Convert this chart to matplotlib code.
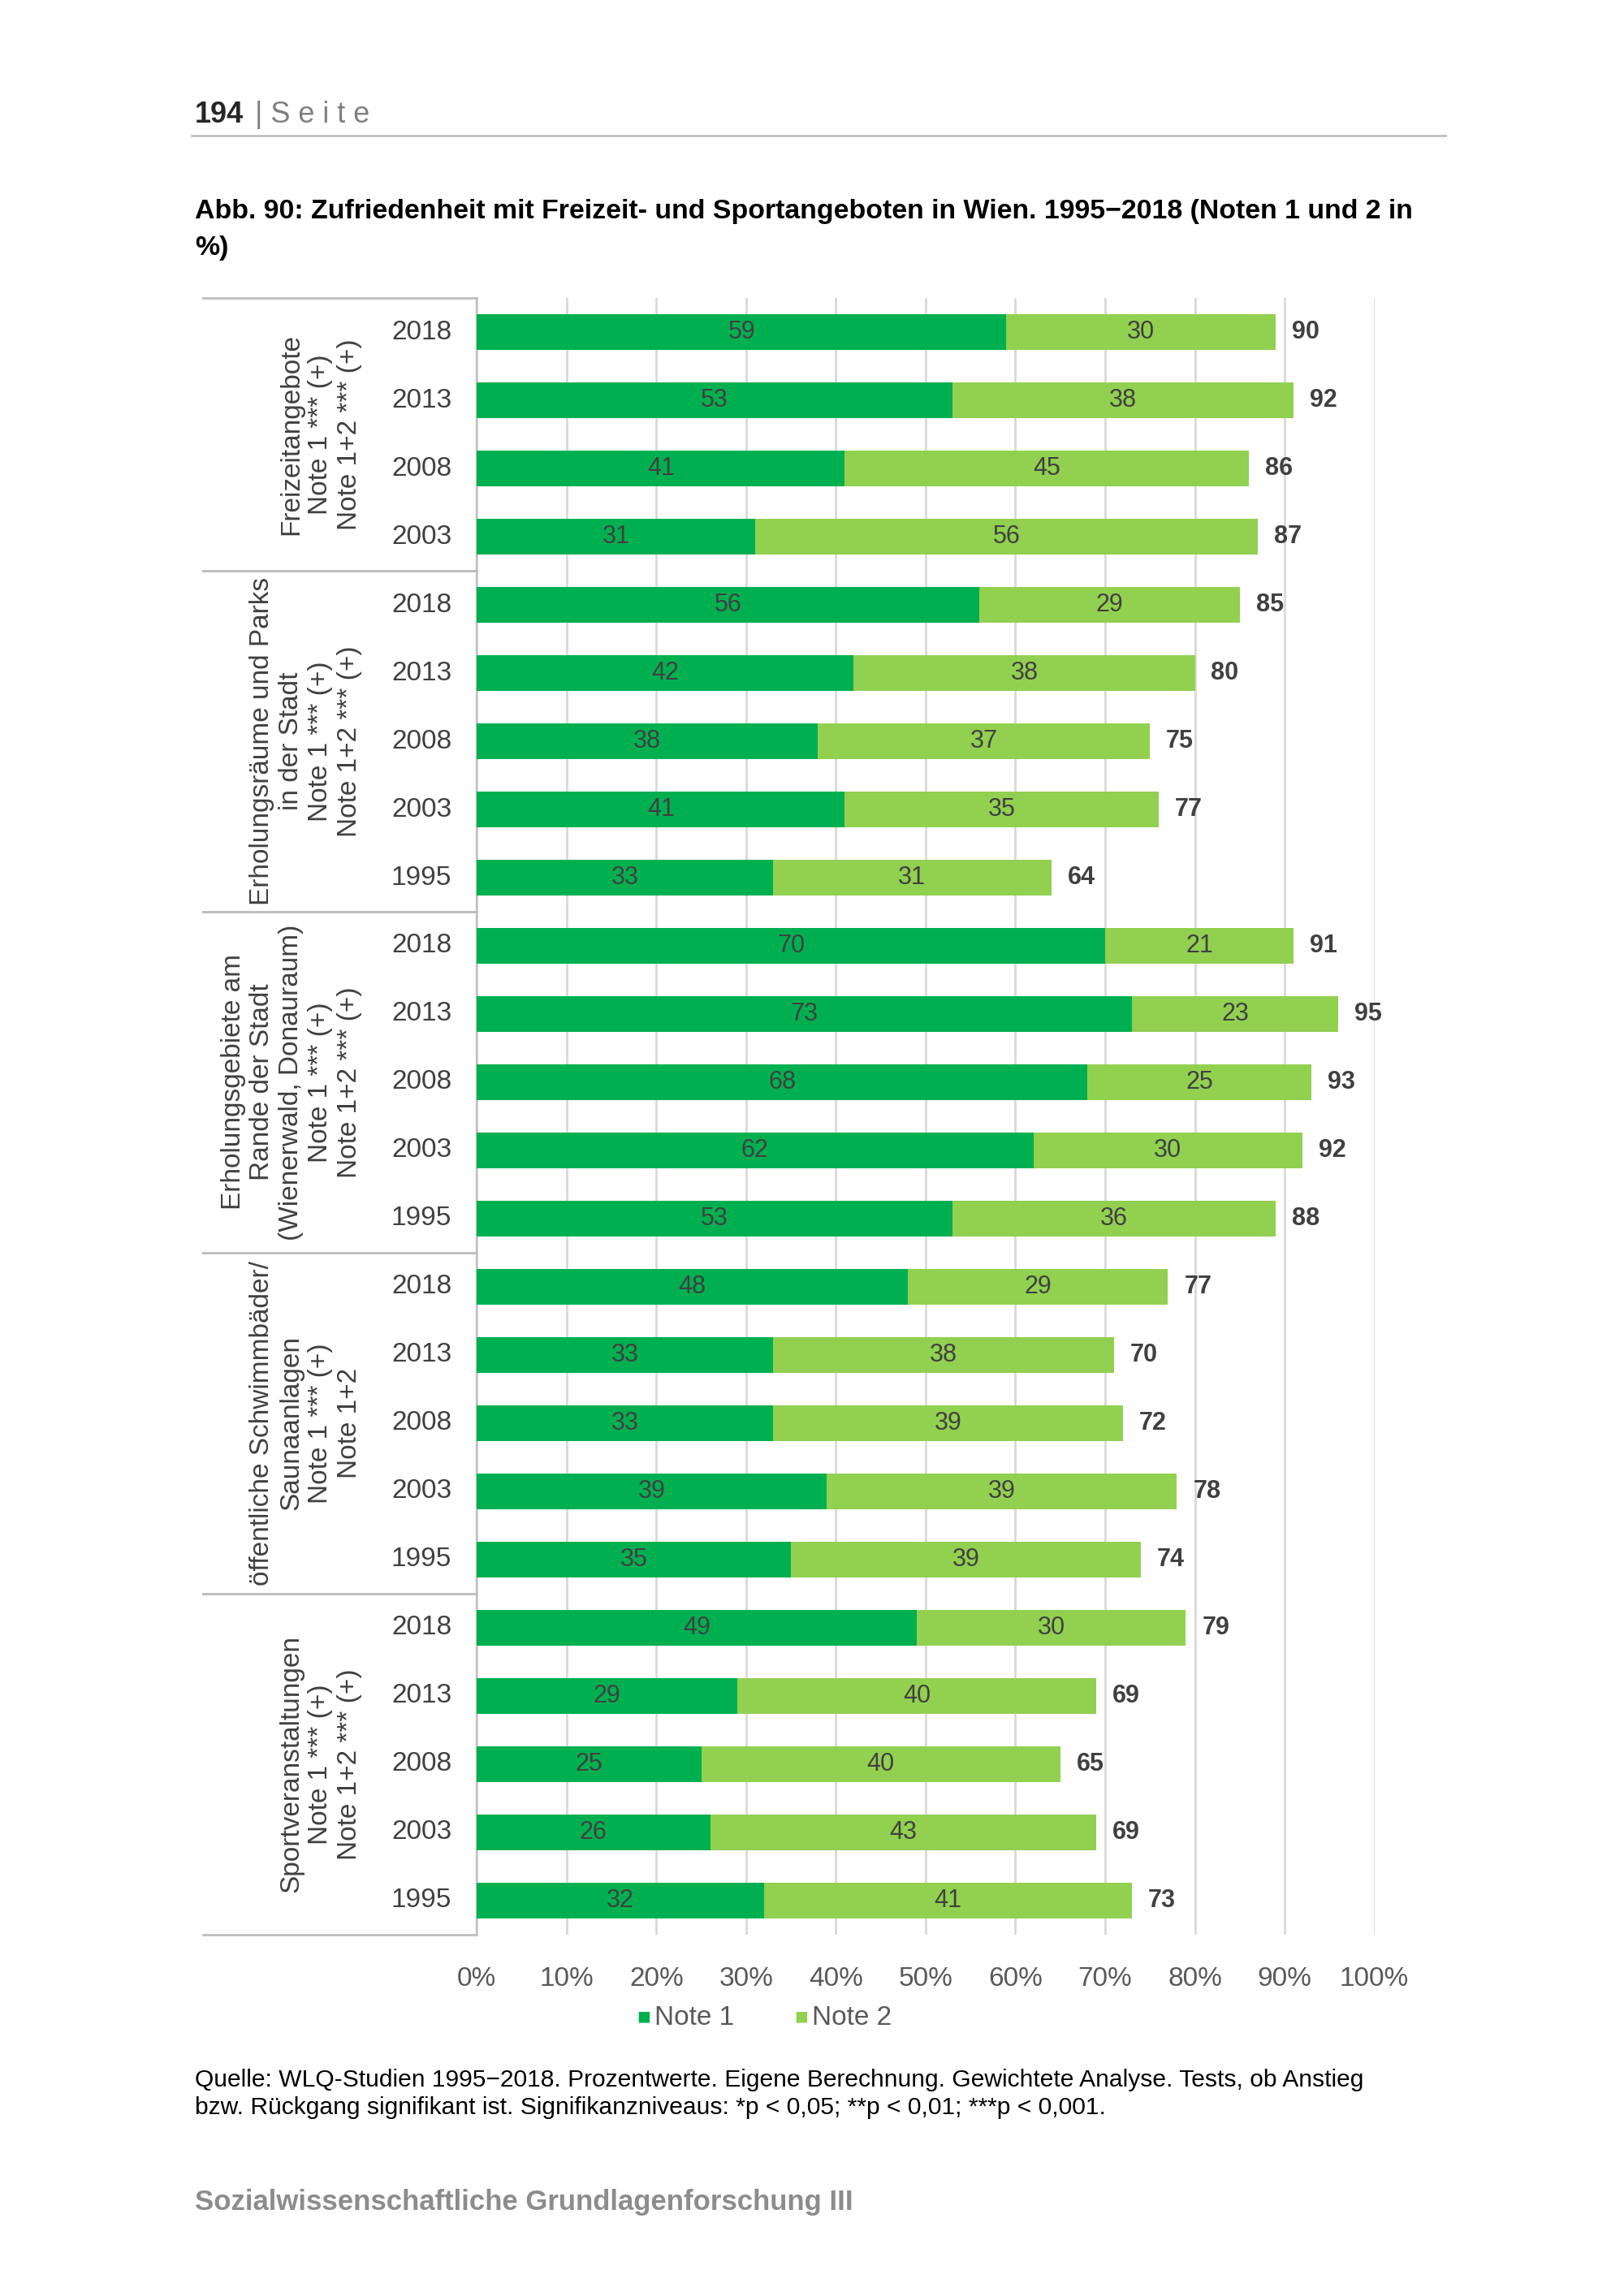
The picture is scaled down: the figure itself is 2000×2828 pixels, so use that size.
import matplotlib.pyplot as plt
import numpy as np

plt.rcParams['font.family'] = ['Liberation Sans', 'DejaVu Sans']

groups = [
    "Freizeitangebote\nNote 1 *** (+)\nNote 1+2 *** (+)",
    "Erholungsräume und Parks\nin der Stadt\nNote 1 *** (+)\nNote 1+2 *** (+)",
    "Erholungsgebiete am\nRande der Stadt\n(Wienerwald, Donauraum)\nNote 1 *** (+)\nNote 1+2 *** (+)",
    "öffentliche Schwimmbäder/\nSaunaanlagen\nNote 1 *** (+)\nNote 1+2",
    "Sportveranstaltungen\nNote 1 *** (+)\nNote 1+2 *** (+)",
]
years = [
    ["2018", "2013", "2008", "2003"],
    ["2018", "2013", "2008", "2003", "1995"],
    ["2018", "2013", "2008", "2003", "1995"],
    ["2018", "2013", "2008", "2003", "1995"],
    ["2018", "2013", "2008", "2003", "1995"],
]
note1 = [[59, 53, 41, 31], [56, 42, 38, 41, 33], [70, 73, 68, 62, 53],
         [48, 33, 33, 39, 35], [49, 29, 25, 26, 32]]
note2 = [[30, 38, 45, 56], [29, 38, 37, 35, 31], [21, 23, 25, 30, 36],
         [29, 38, 39, 39, 39], [30, 40, 40, 43, 41]]
total = [[90, 92, 86, 87], [85, 80, 75, 77, 64], [91, 95, 93, 92, 88],
         [77, 70, 72, 78, 74], [79, 69, 65, 69, 73]]

c1, c2 = "#00B050", "#92D050"

fig = plt.figure(figsize=(10, 14.14), dpi=200)
ax = fig.add_axes([0.2936, 0.1574, 0.5527, 0.7128])

n = sum(len(y) for y in years)
ax.set_ylim(n - 0.5, -0.5)
ax.set_xlim(0, 100)
row = 0
for g, lab in enumerate(groups):
    start = row
    for i, yr in enumerate(years[g]):
        a, b, t = note1[g][i], note2[g][i], total[g][i]
        ax.barh(row, a, height=0.52, color=c1, zorder=3)
        ax.barh(row, b, left=a, height=0.52, color=c2, zorder=3)
        ax.text(a / 2, row, str(a), ha='center', va='center', fontsize=11, color='#404040', zorder=4)
        ax.text(a + b / 2, row, str(b), ha='center', va='center', fontsize=11, color='#404040', zorder=4)
        ax.text(a + b + 1.8, row, str(t), ha='left', va='center', fontsize=11, fontweight='bold', color='#404040')
        ax.text(-2.8, row, yr, ha='right', va='center', fontsize=12, color='#404040')
        row += 1
    mid = (start + row - 1) / 2
    ax.text(-12.8, mid, lab, rotation=90, ha='right', va='center', multialignment='center',
            fontsize=12, color='#404040')
    # group separators
    for yy in (start - 0.5, row - 0.5):
        ax.plot([-30.5, 0], [yy, yy], color='#BFBFBF', lw=1, clip_on=False)

ax.set_xticks(np.arange(0, 101, 10))
ax.set_xticklabels([f"{v}%" for v in range(0, 101, 10)], fontsize=12, color='#595959')
ax.tick_params(axis='x', length=0, pad=14)
ax.set_yticks([])
ax.grid(axis='x', color='#D9D9D9', lw=1, zorder=0)
for s in ['top', 'right', 'bottom']:
    ax.spines[s].set_visible(False)
ax.spines['left'].set_color('#BFBFBF')

# legend
fig.text(0.392, 0.121, "■", color=c1, fontsize=10, va='center')
fig.text(0.403, 0.121, "Note 1", color='#595959', fontsize=12, va='center')
fig.text(0.489, 0.121, "■", color=c2, fontsize=10, va='center')
fig.text(0.500, 0.121, "Note 2", color='#595959', fontsize=12, va='center')

# page header / footer
fig.text(0.12, 0.950, "194", fontsize=13, fontweight='bold', color='#262626', va='center')
fig.text(0.157, 0.950, "| S e i t e", fontsize=13, color='#7F7F7F', va='center')
fig.add_artist(plt.Line2D([0.118, 0.89], [0.941, 0.941], color='#BFBFBF', lw=1))
fig.text(0.12, 0.908, "Abb. 90: Zufriedenheit mit Freizeit- und Sportangeboten in Wien. 1995\u22122018 (Noten 1 und 2 in",
         fontsize=12.2, fontweight='bold', va='center')
fig.text(0.12, 0.892, "%)", fontsize=12.2, fontweight='bold', va='center')
fig.text(0.12, 0.094, "Quelle: WLQ-Studien 1995\u22122018. Prozentwerte. Eigene Berechnung. Gewichtete Analyse. Tests, ob Anstieg",
         fontsize=10.8, va='center')
fig.text(0.12, 0.082, "bzw. Rückgang signifikant ist. Signifikanzniveaus: *p < 0,05; **p < 0,01; ***p < 0,001.",
         fontsize=10.8, va='center')
fig.text(0.12, 0.041, "Sozialwissenschaftliche Grundlagenforschung III", fontsize=12.5, fontweight='bold',
         color='#8C8C8C', va='center')

fig.savefig("out.png", dpi=200)
